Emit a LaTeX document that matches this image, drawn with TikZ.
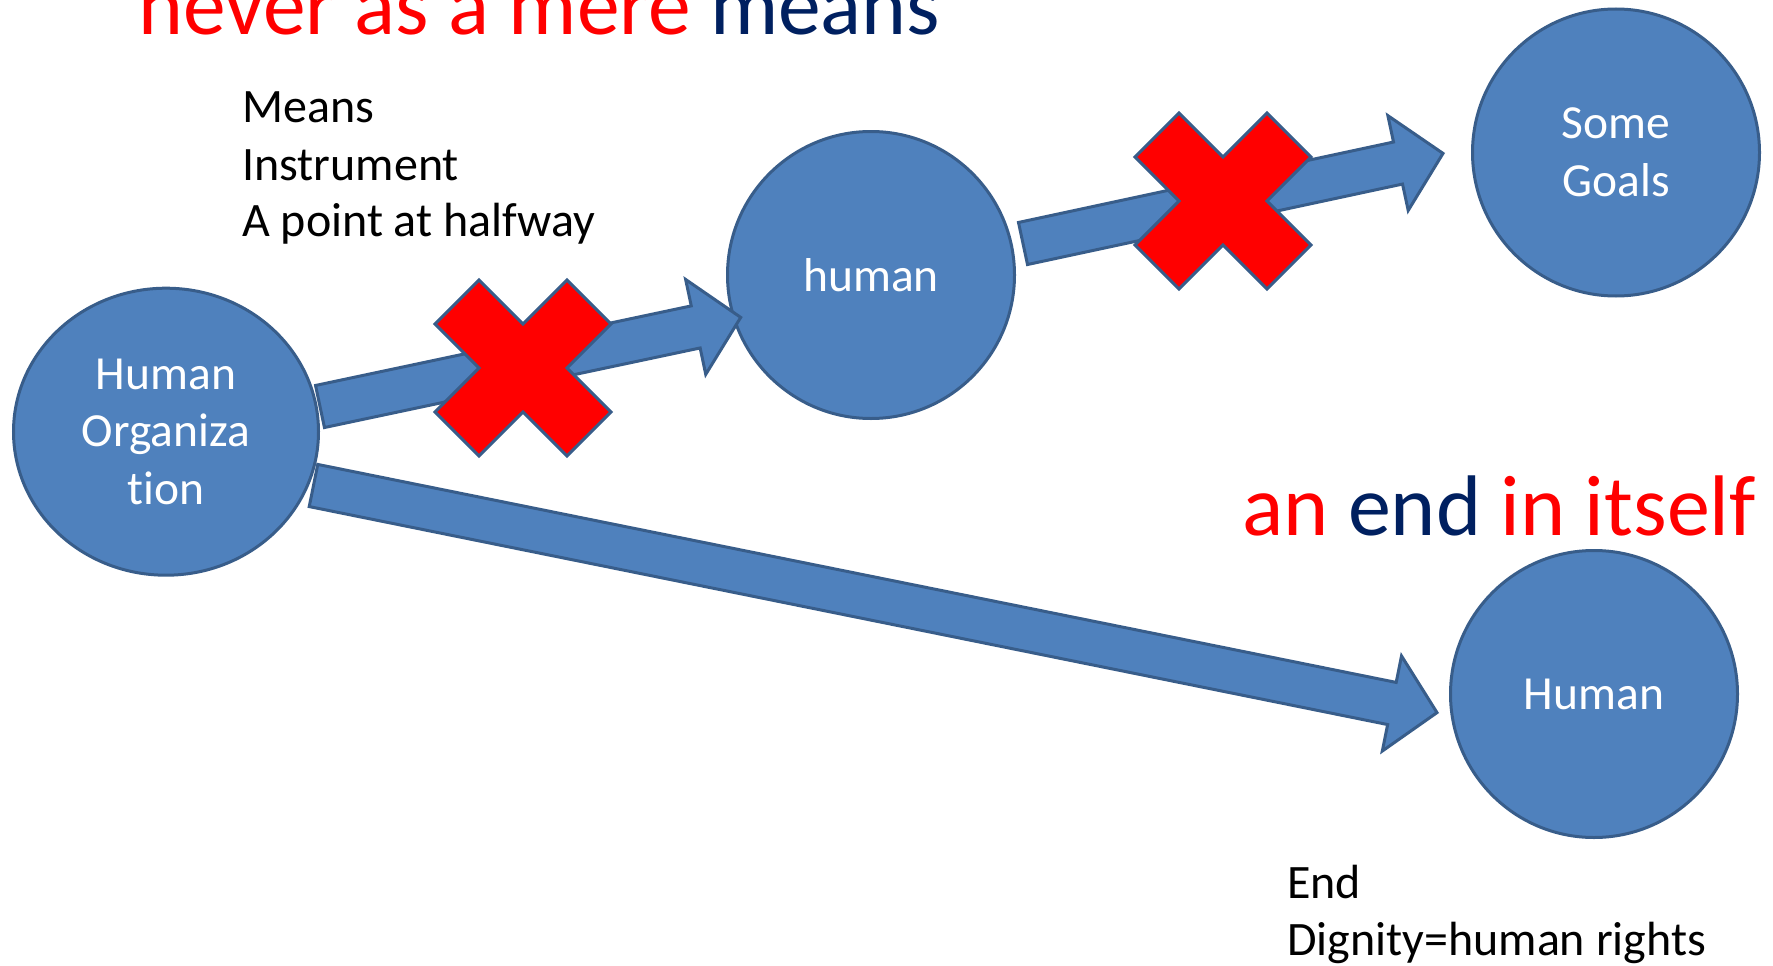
\documentclass[tikz,border=0pt]{standalone}
\usepackage{fontspec}
\setmainfont{Carlito}[Ligatures=NoCommon]
\usetikzlibrary{calc,shapes.geometric}
\definecolor{nodefill}{HTML}{4F81BD}
\definecolor{nodeline}{HTML}{385D8A}
\definecolor{darkblue}{HTML}{002060}
\definecolor{xred}{HTML}{FF0000}
\newcommand{\shw}{21.5pt}
\newcommand{\hdw}{48.5pt}
\newcommand{\hdl}{46pt}
\newcommand{\fatarrow}[2]{%
  \coordinate (#1-h) at ($(#2)!\hdl!(#1)$);
  \draw[fatarrow] ($(#1)!\shw!90:(#2)$) -- ($(#1-h)!\shw!90:(#2)$) -- ($(#1-h)!\hdw!90:(#2)$) -- (#2)
    -- ($(#1-h)!\hdw!-90:(#2)$) -- ($(#1-h)!\shw!-90:(#2)$) -- ($(#1)!\shw!-90:(#2)$) -- cycle;
}
\newcommand{\crossat}[1]{%
  \begin{scope}[shift={(#1)}]
    \draw[crossst] (0,-44) -- (44,-88) -- (88,-44) -- (44,0) -- (88,44) -- (44,88) -- (0,44)
      -- (-44,88) -- (-88,44) -- (-44,0) -- (-88,-44) -- (-44,-88) -- cycle;
  \end{scope}
}
\begin{document}
\begin{tikzpicture}[x=1pt,y=-1pt,
  bubble/.style={circle, fill=nodefill, draw=nodeline, line width=3pt, minimum size=287pt,
    inner sep=0pt, text=white, align=center, font=\fontsize{47.5}{57.5}\selectfont},
  fatarrow/.style={fill=nodefill, draw=nodeline, line width=3pt, line join=miter},
  crossst/.style={fill=xred, draw=nodeline, line width=3pt, line join=miter},
  body/.style={anchor=base west, inner sep=0pt, font=\fontsize{48}{57.5}\selectfont},
  title/.style={anchor=base west, inner sep=0pt, font=\fontsize{86}{100}\selectfont}]
\useasboundingbox (0,0) rectangle (1773,966);
\fill[white] (0,0) rectangle (1773,966);

\node[bubble, ellipse, minimum width=305pt, minimum height=287pt] (org) at (166,431.7) {Human\\Organiza\\tion};
\node[bubble] (hum) at (871,275) {human};
\node[bubble] (goals) at (1616,152.5) {Some\\Goals};
\node[bubble] (end) at (1594,694) {Human};

\coordinate (a1s) at (320,406.5);
\coordinate (a1e) at (740.7,317.4);
\coordinate (a2s) at (1023,243.5);
\coordinate (a2e) at (1443,153.4);
\coordinate (a3s) at (313.5,485.5);
\coordinate (a3e) at (1437,712.6);
\fatarrow{a1s}{a1e}
\fatarrow{a2s}{a2e}
\fatarrow{a3s}{a3e}

\coordinate (x1) at (523,368);
\coordinate (x2) at (1223,201);
\crossat{x1}
\crossat{x2}

\node[title, font=\fontsize{85.5}{100}\selectfont] (t1) at (138,35) {\textcolor{xred}{never as a mere} \textcolor{darkblue}{means}};
\node[title] (t2) at (1242,535) {\textcolor{xred}{an} \textcolor{darkblue}{end} \textcolor{xred}{in itself}};
\node[body] (m1) at (242,122.7) {Means};
\node[body] (m2) at (242,180) {Instrument};
\node[body] (m3) at (242,236.7) {A point at halfway};
\node[body] (e1) at (1287,898) {End};
\node[body] (e2) at (1287,955) {Dignity=human rights};
\end{tikzpicture}
\end{document}
